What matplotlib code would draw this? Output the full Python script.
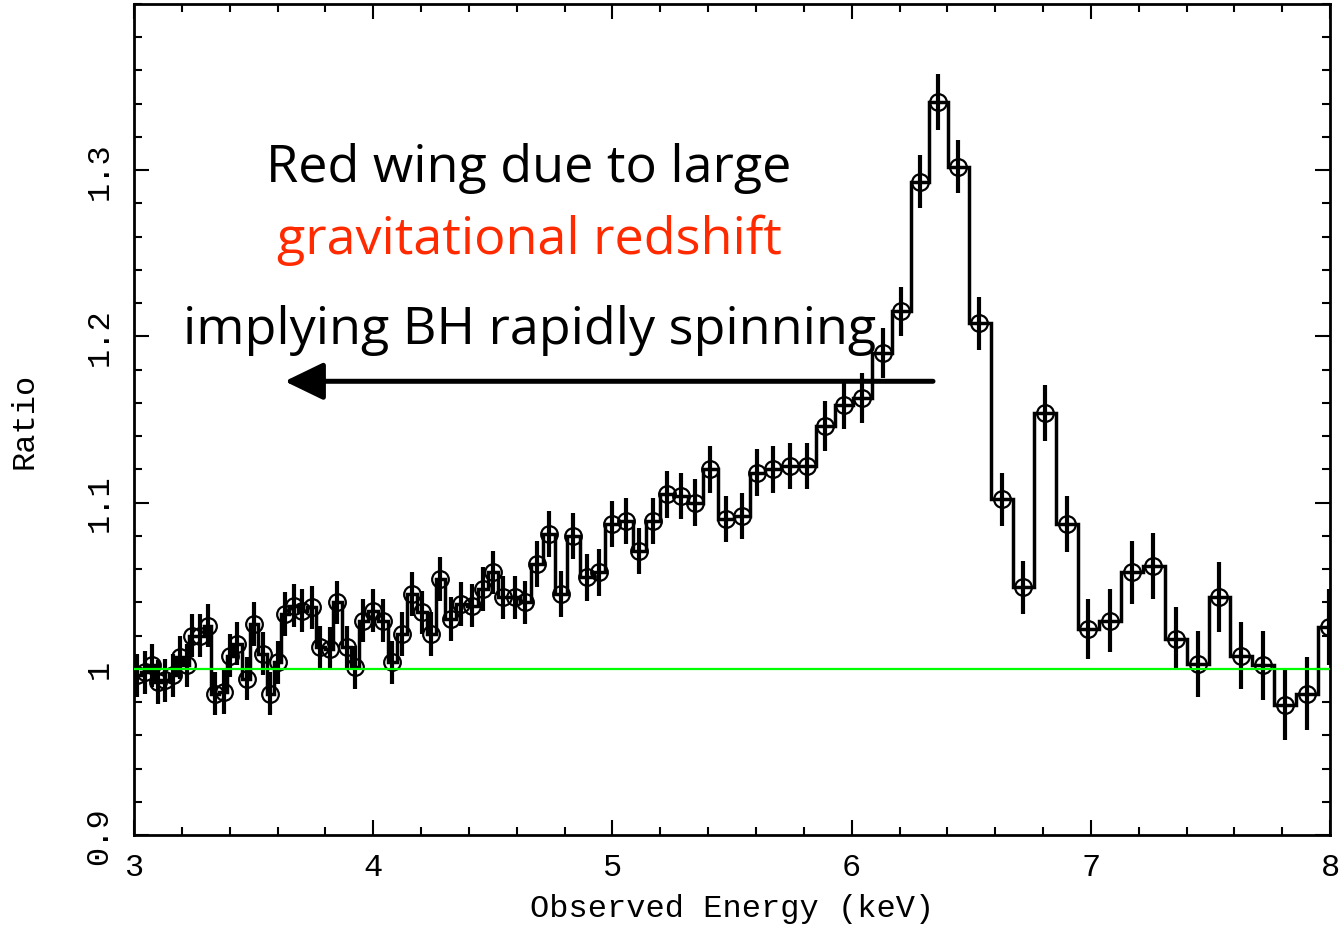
import numpy as np
import matplotlib.pyplot as plt
from matplotlib.ticker import MultipleLocator

# Fe K line profile: data / continuum ratio
energy = [3.013, 3.046, 3.075, 3.100, 3.130, 3.163, 3.192, 3.222, 3.242, 3.276,
          3.309, 3.339, 3.376, 3.401, 3.431, 3.472, 3.502, 3.539, 3.569, 3.602,
          3.631, 3.669, 3.702, 3.744, 3.778, 3.819, 3.849, 3.890, 3.924, 3.957,
          3.999, 4.041, 4.079, 4.120, 4.162, 4.204, 4.242, 4.279, 4.325, 4.367,
          4.413, 4.459, 4.501, 4.543, 4.593, 4.635, 4.685, 4.735, 4.785, 4.835,
          4.894, 4.944, 4.998, 5.057, 5.111, 5.170, 5.228, 5.287, 5.345, 5.408,
          5.475, 5.542, 5.605, 5.671, 5.742, 5.814, 5.889, 5.968, 6.043, 6.131,
          6.207, 6.286, 6.361, 6.445, 6.533, 6.629, 6.717, 6.808, 6.900, 6.988,
          7.080, 7.172, 7.260, 7.356, 7.448, 7.536, 7.628, 7.720, 7.812, 7.904,
          7.996]
ratio = [0.996, 0.998, 1.002, 0.992, 0.993, 0.996, 1.007, 1.002, 1.020, 1.020,
         1.026, 0.985, 0.986, 1.008, 1.015, 0.994, 1.027, 1.009, 0.985, 1.004,
         1.033, 1.038, 1.035, 1.037, 1.013, 1.012, 1.040, 1.013, 1.001, 1.029,
         1.035, 1.029, 1.004, 1.021, 1.045, 1.034, 1.021, 1.054, 1.030, 1.039,
         1.038, 1.048, 1.058, 1.043, 1.043, 1.040, 1.063, 1.081, 1.045, 1.080,
         1.055, 1.058, 1.087, 1.089, 1.071, 1.089, 1.105, 1.104, 1.100, 1.120,
         1.090, 1.092, 1.118, 1.120, 1.122, 1.122, 1.146, 1.159, 1.163, 1.190,
         1.215, 1.293, 1.341, 1.302, 1.208, 1.102, 1.049, 1.154, 1.087, 1.024,
         1.029, 1.058, 1.062, 1.018, 1.003, 1.043, 1.008, 1.002, 0.978, 0.985,
         1.025]
ratio_err = [0.013] * 46 + [0.014] * 20 + [0.015] * 5 + \
            [0.016, 0.017, 0.016, 0.016, 0.016, 0.016, 0.017, 0.017,
             0.018, 0.019, 0.019, 0.020, 0.019,
             0.020, 0.021, 0.020, 0.021, 0.021, 0.022, 0.023]

note_lines = ["Red wing due to large", "gravitational redshift", "implying BH rapidly spinning"]
note_colors = ["black", "#ff2a00", "black"]
note_y = [1.2934, 1.250, 1.1958]
note_x = 4.652
arrow_from = (6.34, 1.173)
arrow_to = (3.63, 1.173)

energy = np.array(energy)
ratio = np.array(ratio)

# bin edges halfway between neighbouring channels
mid = 0.5 * (energy[1:] + energy[:-1])
edges = np.concatenate([[max(3.0, 2 * energy[0] - mid[0])], mid,
                        [min(8.0, 2 * energy[-1] - mid[-1])]])

tick_font = "Liberation Mono"

fig = plt.figure(figsize=(13.41, 9.29), dpi=100)
ax = fig.add_axes([0.0999, 0.1001, 0.9919 - 0.0999, 0.9946 - 0.1001])

ax.stairs(ratio, edges, baseline=None, color="black", lw=2.5, zorder=3)
ax.errorbar(energy, ratio, yerr=ratio_err, fmt="none", ecolor="black",
            elinewidth=3.0, capsize=0, zorder=4)
ax.plot(energy, ratio, "o", ms=12, mfc="none", mec="black", mew=1.6, zorder=5)
ax.axhline(1.0, color="#00ff00", lw=1.6, zorder=6)

for txt, col, yy in zip(note_lines, note_colors, note_y):
    ax.text(note_x, yy, txt, color=col, fontsize=37.5, family="Open Sans",
            ha="center", va="baseline", zorder=7)

ax.annotate("", xy=arrow_to, xytext=arrow_from,
            arrowprops=dict(arrowstyle="-|>,head_length=0.95,head_width=0.46",
                            mutation_scale=25, lw=3.6, color="black",
                            shrinkA=0, shrinkB=0), zorder=7)

ax.set_xlim(3, 8)
ax.set_ylim(0.9, 1.4)
ax.xaxis.set_major_locator(MultipleLocator(1))
ax.xaxis.set_minor_locator(MultipleLocator(0.2))
ax.yaxis.set_major_locator(MultipleLocator(0.1))
ax.yaxis.set_minor_locator(MultipleLocator(0.02))
ax.set_yticks([0.9, 1.0, 1.1, 1.2, 1.3])
ax.set_yticklabels(["0.9", "1", "1.1", "1.2", "1.3"])
ax.set_xticks([3, 4, 5, 6, 7, 8])
ax.set_xticklabels(["3", "4", "5", "6", "7", "8"])

ax.tick_params(which="both", direction="in", top=True, right=True, width=1.5)
ax.tick_params(which="major", length=11)
ax.tick_params(which="minor", length=6)
ax.tick_params(axis="x", pad=12, labelsize=23)
ax.tick_params(axis="y", pad=14, labelsize=23)
for lbl in ax.get_xticklabels() + ax.get_yticklabels():
    lbl.set_family(tick_font)
for lbl in ax.get_yticklabels():
    lbl.set_rotation(90)
    lbl.set_va("center")

for sp in ax.spines.values():
    sp.set_linewidth(2)

ax.set_xlabel("Observed Energy (keV)", family=tick_font, fontsize=23, labelpad=8)
ax.set_ylabel("Ratio", family=tick_font, fontsize=23)
ax.yaxis.set_label_coords(-0.079, 0.5)

fig.savefig("out.png", dpi=100)
